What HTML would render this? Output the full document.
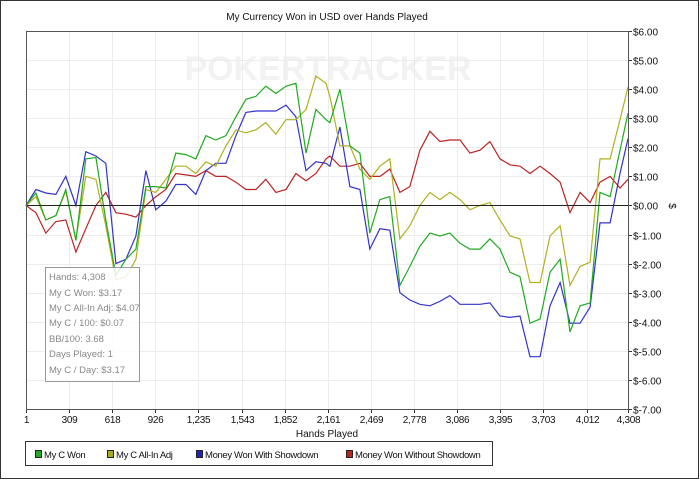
<!DOCTYPE html>
<html><head><meta charset="utf-8"><style>
body{margin:0;background:#fff;}
#wrap{position:relative;width:700px;height:480px;overflow:hidden;font-family:"Liberation Sans",sans-serif;}
svg text{font-family:"Liberation Sans",sans-serif;}
</style></head><body>
<div id="wrap">
<svg id="chart" width="700" height="480" xmlns="http://www.w3.org/2000/svg">
<rect x="0.5" y="0.5" width="698" height="478" fill="#fff" stroke="#333"/>
<text x="327" y="20" font-size="10" text-anchor="middle" fill="#111">My Currency Won in USD over Hands Played</text>
<text x="328" y="80" font-size="34" font-weight="bold" text-anchor="middle" fill="#f2f2f2">POKERTRACKER</text>
<g id="grid"></g>
<g id="series"></g>
<g id="axes"></g>
<text x="327" y="437" font-size="10" text-anchor="middle" fill="#111">Hands Played</text>
<text transform="translate(669,206) rotate(90)" font-size="10" text-anchor="middle" fill="#111">$</text>
<g>
<rect x="45.5" y="267.5" width="94" height="114" fill="#fff" fill-opacity="0.85" stroke="#999"/>
<g font-size="9.5" fill="#888">
<text x="49" y="280">Hands: 4,308</text>
<text x="49" y="296">My C Won: $3.17</text>
<text x="49" y="311">My C All-In Adj: $4.07</text>
<text x="49" y="326">My C / 100: $0.07</text>
<text x="49" y="342">BB/100: 3.68</text>
<text x="49" y="357">Days Played: 1</text>
<text x="49" y="373">My C / Day: $3.17</text>
</g></g>
<g>
<rect x="25.5" y="441.5" width="467" height="24" fill="#fff" stroke="#333"/>
<g font-size="9.5" fill="#111" letter-spacing="-0.35">
<rect x="35.5" y="450.5" width="6" height="7" fill="#22aa22" stroke="#222"/>
<text x="44" y="458">My C Won</text>
<rect x="107.5" y="450.5" width="6" height="7" fill="#aaaa22" stroke="#222"/>
<text x="116" y="458">My C All-In Adj</text>
<rect x="196.5" y="450.5" width="6" height="7" fill="#2222bb" stroke="#222"/>
<text x="205" y="458">Money Won With Showdown</text>
<rect x="346.5" y="450.5" width="6" height="7" fill="#bb2222" stroke="#222"/>
<text x="355" y="458">Money Won Without Showdown</text>
</g></g>
</svg>
</div>
<script>
const hands=[1,72,143,215,286,358,429,501,572,644,716,787,859,930,1002,1073,1145,1216,1288,1359,1431,1503,1574,1646,1717,1789,1861,1932,2004,2075,2147,2175,2247,2318,2390,2461,2533,2604,2676,2747,2819,2891,2962,3034,3106,3177,3249,3320,3392,3464,3535,3607,3679,3750,3822,3893,3965,4037,4108,4180,4251,4308];
const myCWon=[0,0.43,-0.5,-0.35,0.55,-1.2,1.6,1.65,-0.5,-2.4,-1.85,-1.5,0.65,0.65,0.6,1.8,1.75,1.6,2.4,2.25,2.4,3.05,3.65,3.75,4.1,3.85,4.1,4.2,1.8,3.3,2.95,2.85,4.0,2.05,1.8,-0.95,0.2,0.3,-2.75,-2.1,-1.4,-0.95,-1.05,-0.95,-1.3,-1.5,-1.5,-1.15,-1.5,-2.3,-2.45,-4.05,-3.9,-2.3,-1.85,-4.35,-3.45,-3.35,0.45,0.3,1.9,3.17];
const allInAdj=[0,0.3,-0.5,-0.35,0.5,-1.2,1.0,0.9,-0.7,-2.55,-2.45,-1.85,0.55,0.45,0.9,1.35,1.35,1.1,1.5,1.35,2.05,2.6,2.5,2.6,2.85,2.45,2.95,2.95,3.3,4.45,4.2,3.75,2.05,2.05,1.25,0.9,1.35,1.6,-1.15,-0.7,0,0.45,0.2,0.45,0.2,-0.15,0,0.1,-0.5,-1.05,-1.15,-2.65,-2.65,-1.05,-0.7,-2.75,-2.1,-1.95,1.6,1.6,2.95,4.07];
const withShowdown=[0,0.55,0.43,0.38,1.0,0.0,1.85,1.7,1.45,-2.0,-1.85,-1.05,1.2,-0.15,0.15,0.72,0.72,0.38,1.2,1.45,1.45,2.4,3.2,3.25,3.25,3.25,3.45,3.05,1.2,1.5,1.45,1.35,2.7,0.65,0.55,-1.5,-0.8,-0.85,-3.0,-3.25,-3.4,-3.45,-3.3,-3.1,-3.4,-3.4,-3.4,-3.35,-3.8,-3.85,-3.8,-5.2,-5.2,-3.45,-2.65,-4.05,-4.05,-3.5,-0.6,-0.6,1.1,2.3];
const withoutShowdown=[0,-0.25,-0.95,-0.55,-0.5,-1.6,-0.8,0,0.45,-0.25,-0.3,-0.4,0,0.3,0.55,1.1,1.05,1.0,1.2,1.0,1.0,0.8,0.55,0.55,0.9,0.45,0.55,1.1,0.85,1.1,1.6,1.7,1.35,1.35,1.45,1.0,1.0,1.25,0.45,0.65,1.9,2.55,2.2,2.25,2.25,1.8,1.9,2.2,1.6,1.4,1.35,1.1,1.35,1.1,0.8,-0.25,0.45,0.1,0.8,1.0,0.6,0.9];
const xTicks=[1,309,618,926,1235,1543,1852,2161,2469,2778,3086,3395,3703,4012,4308];
const yTicks=[6,5,4,3,2,1,0,-1,-2,-3,-4,-5,-6,-7];
const L=26,R=628,T=31,B=409,xMin=1,xMax=4308,yMin=-7,yMax=6;
const NS='http://www.w3.org/2000/svg';
function xs(v){return L+(v-xMin)/(xMax-xMin)*(R-L);}
function ys(v){return B-(v-yMin)/(yMax-yMin)*(B-T);}
function mk(tag,attrs,parent){const e=document.createElementNS(NS,tag);for(const k in attrs)e.setAttribute(k,attrs[k]);parent.appendChild(e);return e;}
const grid=document.getElementById('grid'),axes=document.getElementById('axes'),ser=document.getElementById('series');
xTicks.forEach(t=>{const x=Math.round(xs(t))+0.5;
 const g=mk('line',{x1:x,x2:x,y1:T,y2:B,stroke:'#ececec'},grid);
 
 
 const tk=mk('line',{x1:x,x2:x,y1:B,y2:B+4,stroke:'#333'},axes);
 
 
 const lb=mk('text',{x:x,y:423,'font-size':10,'text-anchor':'middle',fill:'#111','letter-spacing':'-0.3'},axes);
 lb.textContent=t.toLocaleString('en-US');
 
 
});
yTicks.forEach(t=>{const y=Math.round(ys(t))+0.5;
 if(t!==0){const g=mk('line',{x1:L,x2:R,y1:y,y2:y,stroke:'#ececec'},grid);
 
 }
 const tk=mk('line',{x1:R,x2:R+4,y1:y,y2:y,stroke:'#333'},axes);
 
 
 const lb=mk('text',{x:R+5,y:y+4,'font-size':10,fill:'#111'},axes);
 lb.textContent='$'+(t<0?'-'+Math.abs(t).toFixed(2):t.toFixed(2));
 
 
});
const z=Math.round(ys(0))+0.5;
const zl=mk('line',{x1:L,x2:R,y1:z,y2:z,stroke:'#222'},axes);


const fr=mk('path',{d:`M${L+0.5},${T+0.5}H${R+0.5}V${B+0.5}H${L+0.5}Z`,fill:'none',stroke:'#555'},axes);


const seriesList=[[withoutShowdown,'#bb2222','line-without-showdown'],[withShowdown,'#3333cc','line-with-showdown'],[allInAdj,'#b0b020','line-all-in-adj'],[myCWon,'#22aa22','line-my-c-won']];
seriesList.forEach(([vals,col,name])=>{
 let d='';vals.forEach((v,i)=>{d+=(i?'L':'M')+xs(hands[i]).toFixed(1)+','+ys(v).toFixed(1);});
 const p=mk('path',{d:d,fill:'none',stroke:col,'stroke-width':1.2},ser);
 
 
});
</script>
</body></html>
